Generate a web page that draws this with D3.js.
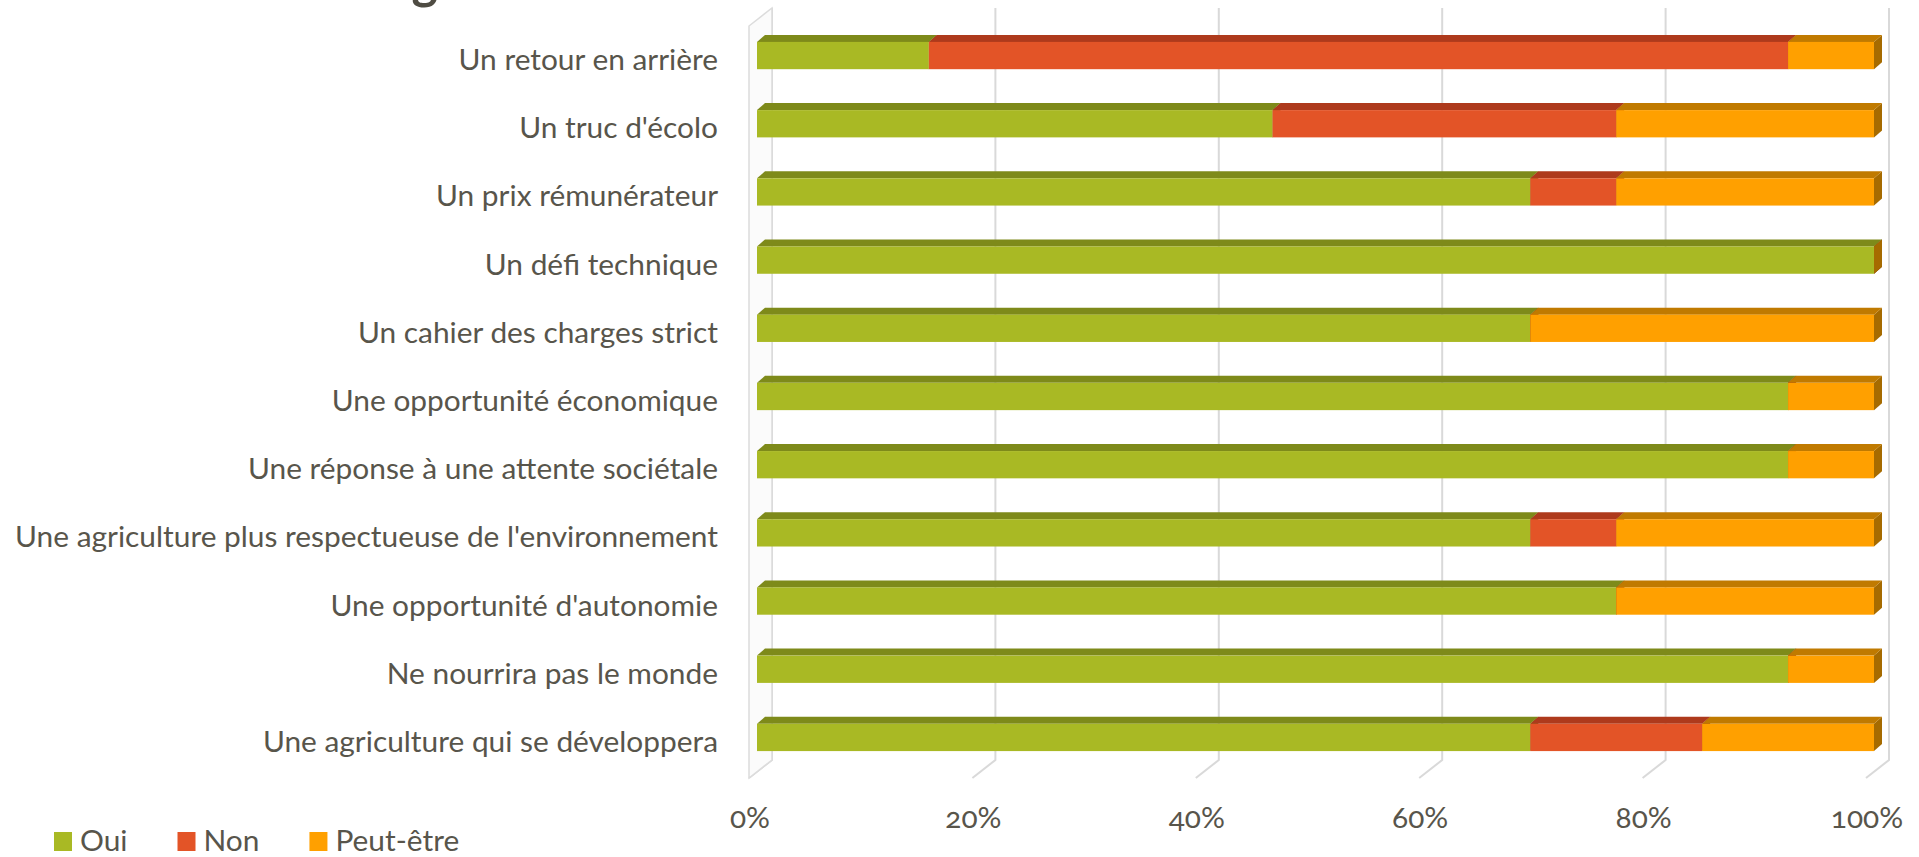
<!DOCTYPE html>
<html>
  <head>
    <meta charset="UTF-8">
    <style>
      body {
        margin: 0;
        background: white;
        font-family: Lato, "Open Sans", sans-serif;
      }
      svg { display: block; }
    </style>
    <script type="text/javascript" src="https://cdn.jsdelivr.net/npm/d3@7"></script>
  </head>
  <body>
    <svg id="chart"></svg>

    <script type="text/javascript">
      // data, top row first (counts of answers, 13 respondents)
      const categories = [
        "Un retour en arrière",
        "Un truc d'écolo",
        "Un prix rémunérateur",
        "Un défi technique",
        "Un cahier des charges strict",
        "Une opportunité économique",
        "Une réponse à une attente sociétale",
        "Une agriculture plus respectueuse de l'environnement",
        "Une opportunité d'autonomie",
        "Ne nourrira pas le monde",
        "Une agriculture qui se développera"
      ];
      const oui      = [2, 6, 9, 13, 9, 12, 12, 9, 10, 12, 9];
      const non      = [10, 4, 1, 0, 0, 0, 0, 1, 0, 0, 2];
      const peutEtre = [1, 3, 3, 0, 4, 1, 1, 3, 3, 1, 2];
      const seriesNames = ["Oui", "Non", "Peut-être"];
      const tickValues = [0, 0.2, 0.4, 0.6, 0.8, 1];
      const titleText = "Pour vous l'agriculture bio c'est";

      const colors = {
        "Oui":       {front: "#a9b924", top: "#7e8a1a", side: "#6b7612"},
        "Non":       {front: "#e35427", top: "#ae3a1c", side: "#963217"},
        "Peut-être": {front: "#ffa000", top: "#c07a00", side: "#a66b00"}
      };
      const textColor = "#58554b";

      let width = 1919;
      let height = 857;
      let depth = {dx: 23, dy: -18};   // wall depth
      let bar3d = {dx: 8, dy: -7};     // bar top face shift

      let svg = d3.select('#chart')
        .attr('width', width)
        .attr('height', height);

      let rows = categories.map((c, i) => ({
        category: c, "Oui": oui[i], "Non": non[i], "Peut-être": peutEtre[i]
      }));

      let stacked = d3.stack()
        .keys(seriesNames)
        .offset(d3.stackOffsetExpand)(rows);

      let x = d3.scaleLinear().domain([0, 1]).range([757, 1874]);
      let y = d3.scaleBand()
        .domain(categories)
        .range([1, 792])
        .paddingInner(0.6)
        .paddingOuter(0.6);

      // font size fitted so the longest label is as wide as in the picture
      let probe = svg.append('text').attr('font-size', 100).text(categories[7]);
      let fontSize = 100 * 703 / probe.node().getComputedTextLength();
      probe.remove();

      // back wall gridlines + floor lines
      let floorFront = 778, floorBack = floorFront + depth.dy, wallTop = 8;
      let grid = svg.append('g');
      grid.selectAll('path')
        .data(tickValues)
        .enter()
        .append('path')
        .attr('d', v => {
          let xf = x(v) - 8, xb = xf + depth.dx;
          return `M${xb},${wallTop}L${xb},${floorBack}L${xf},${floorFront}`;
        })
        .attr('fill', 'none')
        .attr('stroke', '#d9d9d9')
        .attr('stroke-width', 2);

      // left wall
      let defs = svg.append('defs');
      defs.append('filter').attr('id', 'blur')
        .attr('x', '-200%').attr('width', '500%')
        .append('feGaussianBlur').attr('stdDeviation', 1.8);
      let wx = x(0) - 8;
      svg.append('path')
        .attr('d', `M${wx},${wallTop - depth.dy}L${wx + depth.dx},${wallTop}L${wx + depth.dx},${floorBack}L${wx},${floorFront}Z`)
        .attr('fill', '#fbfbfb')
        .attr('stroke', '#dcdcdc')
        .attr('stroke-width', 1.5);
      svg.append('line')
        .attr('x1', wx + 11).attr('x2', wx + 11)
        .attr('y1', wallTop + 12).attr('y2', floorBack + 6)
        .attr('stroke', '#6e6e6e')
        .attr('stroke-width', 5)
        .attr('filter', 'url(#blur)');

      // bars
      let h = y.bandwidth();
      let layers = svg.append('g').selectAll('g')
        .data(stacked)
        .enter()
        .append('g');

      let segs = layers.selectAll('g')
        .data(s => s.map(d => ({key: s.key, x0: d[0], x1: d[1], cat: d.data.category})))
        .enter()
        .append('g');

      segs.append('path')
        .attr('d', d => {
          let xr = x(d.x1), yt = y(d.cat);
          return `M${xr},${yt}L${xr + bar3d.dx},${yt + bar3d.dy}L${xr + bar3d.dx},${yt + h + bar3d.dy}L${xr},${yt + h}Z`;
        })
        .attr('fill', d => colors[d.key].side);

      segs.append('path')
        .attr('d', d => {
          let xl = x(d.x0), xr = x(d.x1), yt = y(d.cat);
          return `M${xl},${yt}L${xl + bar3d.dx},${yt + bar3d.dy}L${xr + bar3d.dx},${yt + bar3d.dy}L${xr},${yt}Z`;
        })
        .attr('fill', d => colors[d.key].top);

      segs.append('rect')
        .attr('x', d => x(d.x0))
        .attr('y', d => y(d.cat))
        .attr('width', d => x(d.x1) - x(d.x0))
        .attr('height', h)
        .attr('fill', d => colors[d.key].front);

      // category labels
      let axisY = d3.axisLeft(y).tickSize(0).tickPadding(0);
      let gy = svg.append('g')
        .attr('transform', `translate(718, 5)`)
        .call(axisY);
      gy.select('.domain').remove();
      gy.selectAll('text')
        .attr('font-family', 'Lato, sans-serif')
        .attr('font-size', fontSize)
        .attr('fill', textColor);

      // percent axis
      let axisX = d3.axisBottom(x)
        .tickValues(tickValues)
        .tickFormat(d3.format('.0%'))
        .tickSize(0)
        .tickPadding(0);
      let gx = svg.append('g')
        .attr('transform', `translate(-7.5, 807)`)
        .call(axisX);
      gx.select('.domain').remove();
      gx.selectAll('text')
        .attr('font-family', 'Lato, sans-serif')
        .attr('font-size', fontSize)
        .attr('fill', textColor)
        .style('font-variant-numeric', 'oldstyle-nums');

      // legend
      let legend = svg.append('g').attr('transform', 'translate(54, 832)');
      let lx = 0;
      seriesNames.forEach(name => {
        let item = legend.append('g').attr('transform', `translate(${lx}, 0)`);
        item.append('rect')
          .attr('width', 18).attr('height', 19)
          .attr('fill', colors[name].front);
        let t = item.append('text')
          .attr('x', 26).attr('y', 19)
          .attr('font-family', 'Lato, sans-serif')
          .attr('font-size', fontSize)
          .attr('fill', textColor)
          .text(name);
        lx += 26 + t.node().getComputedTextLength() + 50;
      });

      // title, mostly cut off by the top edge as in the source
      svg.append('text')
        .attr('x', 132)
        .attr('y', -1)
        .attr('font-family', 'Lato, sans-serif')
        .attr('font-weight', 'bold')
        .attr('font-size', 50)
        .attr('fill', '#4f4c43')
        .text(titleText);
    </script>
  </body>
</html>
